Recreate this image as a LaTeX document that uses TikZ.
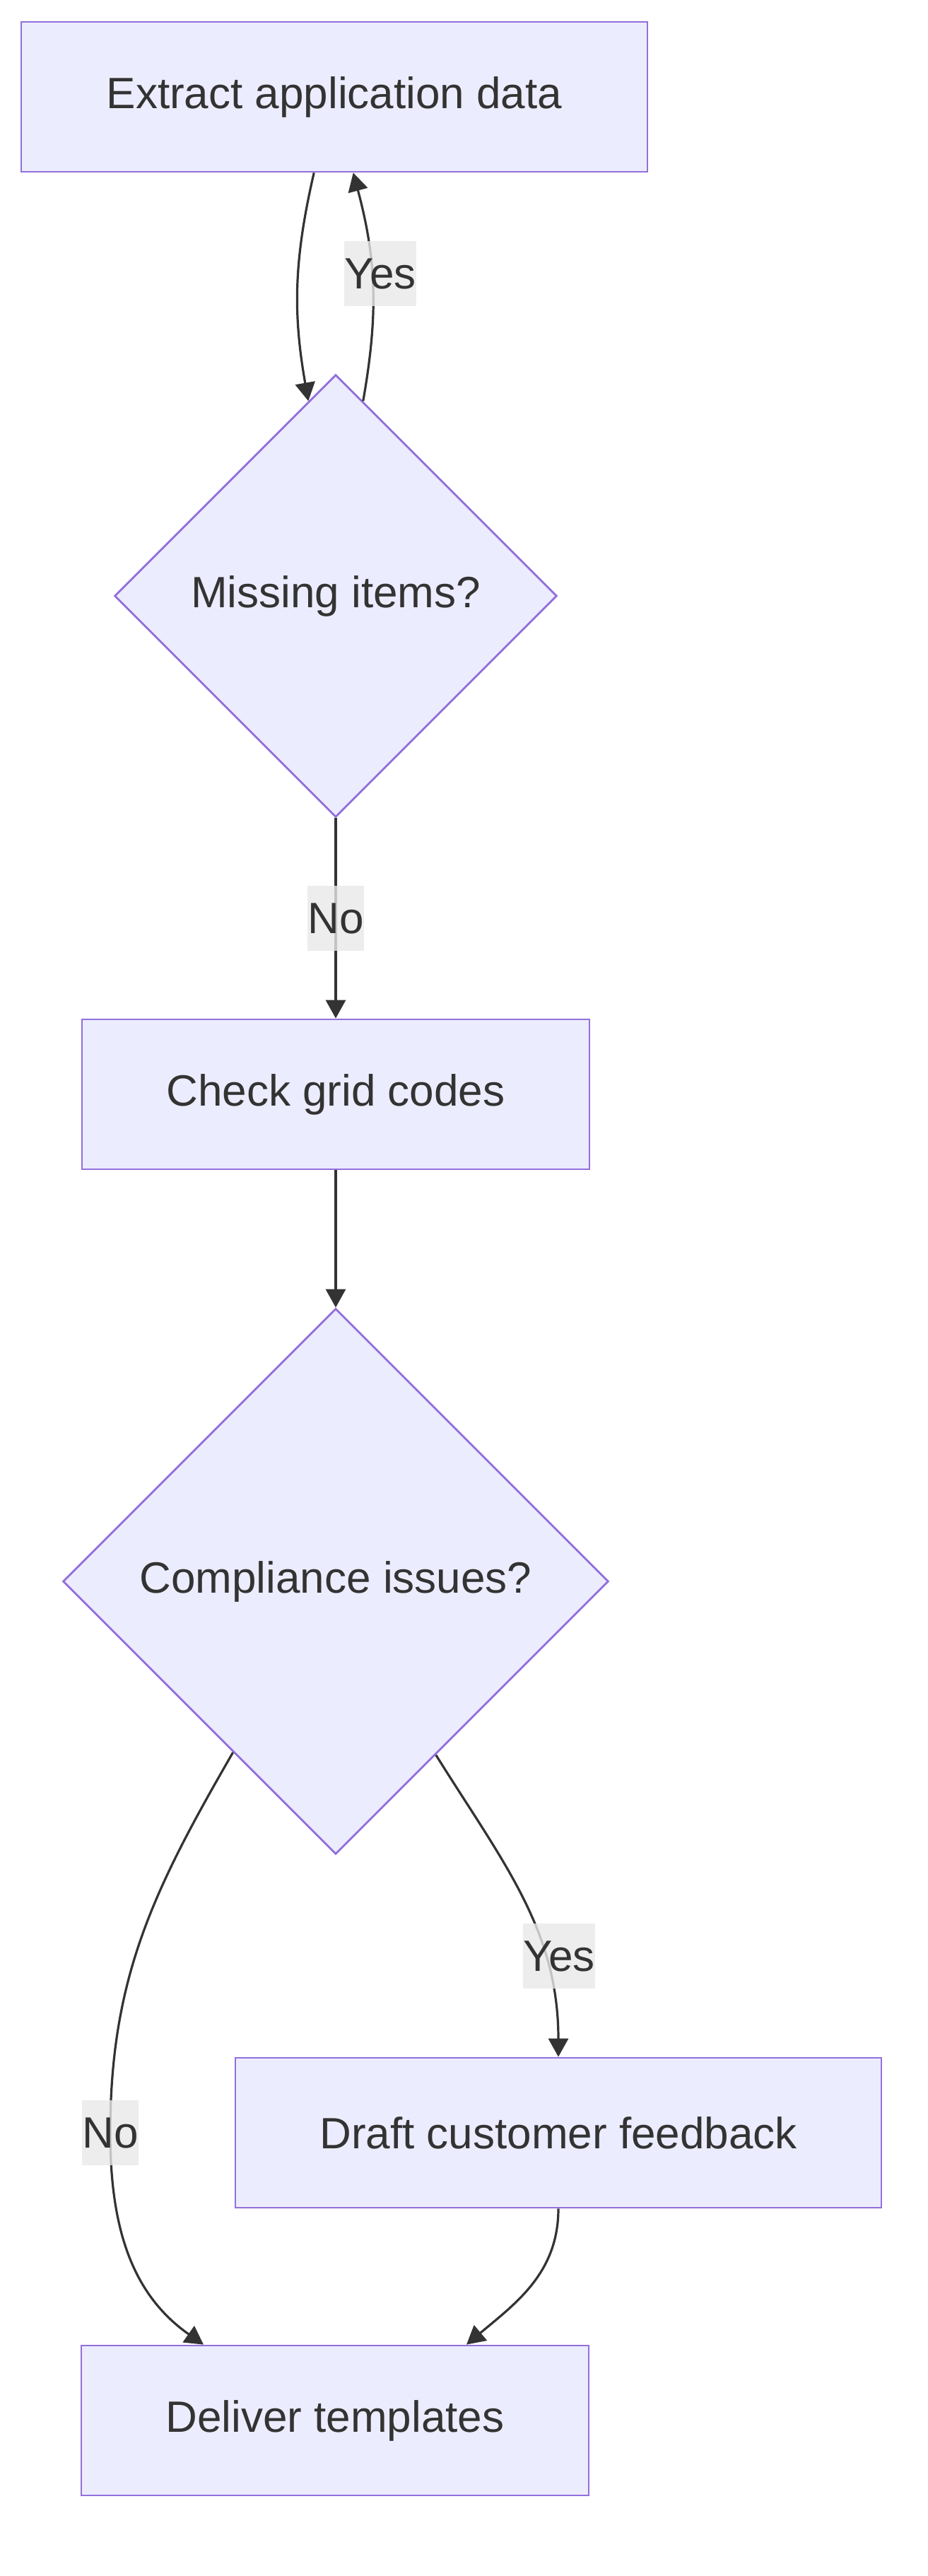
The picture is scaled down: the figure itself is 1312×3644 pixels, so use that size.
\documentclass[tikz,border=0pt]{standalone}
\usepackage{fontspec}
\setmainfont{Liberation Sans}
\usetikzlibrary{shapes.geometric, arrows.meta}
\definecolor{boxfill}{HTML}{ECECFF}
\definecolor{boxline}{HTML}{9370DB}
\definecolor{ink}{HTML}{333333}
\definecolor{lblbg}{HTML}{E8E8E8}

\begin{document}
\begin{tikzpicture}[x=0.5pt, y=-0.5pt,
    every node/.style={font=\fontsize{31}{37}\selectfont, text=ink},
    box/.style={rectangle, draw=boxline, fill=boxfill, line width=1.4pt, minimum height=106pt, inner sep=0pt},
    decision/.style={diamond, aspect=1, draw=boxline, fill=boxfill, line width=1.4pt, inner sep=0pt},
    arr/.style={draw=ink, line width=1.6pt, -{Triangle[length=13pt, width=14pt]}},
    lbl/.style={fill=lblbg, fill opacity=0.8, text opacity=1, inner sep=0pt, minimum height=46pt}]
    \useasboundingbox (0,0) rectangle (1312,3644);
    % steps
    \node[box, minimum width=443pt] (extract) at (473,137) {Extract application data};
    \node[decision, minimum size=313pt] (missing) at (475,843) {Missing items?};
    \node[box, minimum width=359pt] (grid) at (475,1548) {Check grid codes};
    \node[decision, minimum size=386pt] (compliance) at (475,2237) {Compliance issues?};
    \node[box, minimum width=457pt] (feedback) at (790,3017) {Draft customer feedback};
    \node[box, minimum width=359pt] (deliver) at (474,3424) {Deliver templates};
    % connectors
    \draw[arr] (extract.255) to[out=-103, in=100] (missing.98.5);
    \draw[arr] (missing.82.4) to[out=80, in=-75] (extract.284.3);
    \draw[arr] (missing.south) -- (grid.north);
    \draw[arr] (grid.south) -- (compliance.north);
    \draw[arr] (compliance.300.6) to[out=-58, in=90] (feedback.north);
    \coordinate (nobend) at (156,3017);
    \draw[arr] (compliance.239) to[out=-120, in=90] (nobend) to[out=-90, in=145] (deliver.150);
    \draw[arr] (feedback.south) to[out=-90, in=40] (deliver.30.5);
    % labels
    \node[lbl] (yes1) at (538,387) {Yes};
    \node[lbl] (no1) at (475,1299) {No};
    \node[lbl] (yes2) at (791,2767) {Yes};
    \node[lbl] (no2) at (nobend) {No};
\end{tikzpicture}
\end{document}
